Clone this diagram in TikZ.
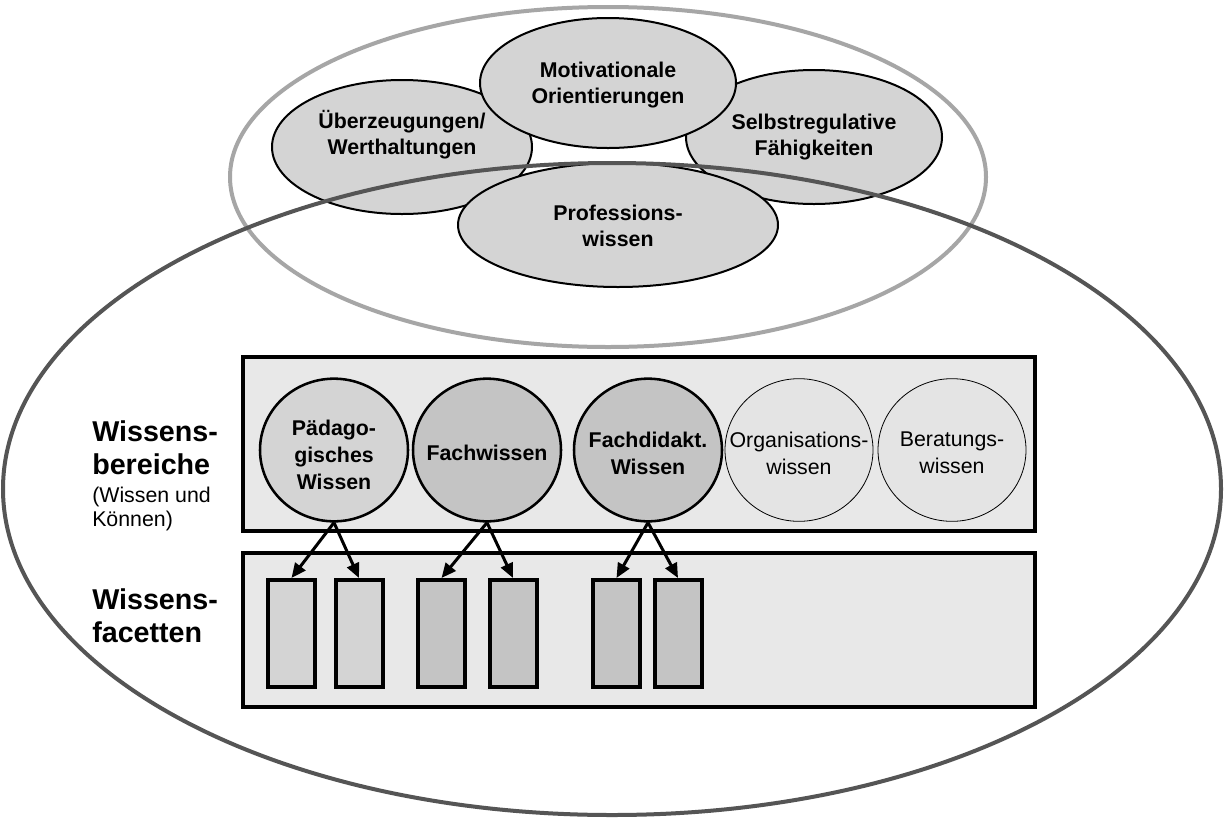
\documentclass[tikz,border=0pt]{standalone}
\usepackage{fontspec}
\setmainfont{Liberation Sans}
\usetikzlibrary{shapes.geometric,arrows.meta}
\definecolor{fillA}{HTML}{D4D4D4}
\definecolor{fillB}{HTML}{C4C4C4}
\definecolor{fillC}{HTML}{E4E4E4}
\definecolor{boxfill}{HTML}{E8E8E8}
\definecolor{darkring}{HTML}{555555}
\definecolor{lightring}{HTML}{A6A6A6}
\tikzset{
  topell/.style={ellipse, draw=black, line width=1.5pt, fill=fillA, inner sep=0pt},
  eltext/.style={font=\fontsize{16}{19.5}\selectfont\bfseries, align=center},
  bigcirc/.style={ellipse, draw=black, line width=1.9pt, inner sep=0pt,
    minimum width=111pt, minimum height=107pt},
  thincirc/.style={ellipse, draw=black, line width=0.6pt, fill=fillC, inner sep=0pt,
    minimum width=111pt, minimum height=107pt},
  boldtext/.style={font=\fontsize{16}{20.25}\selectfont\bfseries, align=center},
  normtext/.style={font=\fontsize{16}{20.25}\selectfont, align=center},
  area/.style={draw=black, line width=3pt, fill=boxfill},
  facet/.style={rectangle, draw=black, line width=3pt, inner sep=0pt,
    minimum width=35.25pt, minimum height=80.25pt},
  link/.style={line width=2.25pt, -{Triangle[length=11pt,width=9.5pt]}},
  biglabel/.style={font=\fontsize{21.5}{24.75}\selectfont\bfseries, align=left, anchor=west, inner sep=0pt},
  smalllabel/.style={font=\fontsize{16}{18}\selectfont, align=left, anchor=west, inner sep=0pt}
}
\begin{document}
\begin{tikzpicture}[x=0.75pt,y=-0.75pt]
\useasboundingbox[fill=white] (0,0) rectangle (1227,818);

% upper ellipses
\node[topell, minimum width=195pt, minimum height=100.5pt] (ueber) at (402,147) {};
\node[eltext] (uebertxt) at (402,135) {Überzeugungen/\\Werthaltungen};
\node[topell, minimum width=192pt, minimum height=100.5pt] (selbst) at (814,137) {};
\node[eltext] (selbsttxt) at (814,137) {Selbstregulative\\Fähigkeiten};
\node[topell, minimum width=192pt, minimum height=97.5pt] (motiv) at (608,83) {};
\node[eltext] (motivtxt) at (608,85) {Motivationale\\Orientierungen};
\node[topell, minimum width=240pt, minimum height=93pt] (prof) at (618,225) {};
\node[eltext] (proftxt) at (618,226) {Professions-\\wissen};

% rings
\node[ellipse, draw=lightring, line width=3pt, inner sep=0pt,
  minimum width=567pt, minimum height=255pt] (ringlight) at (608,177) {};
\node[ellipse, draw=darkring, line width=3pt, inner sep=0pt,
  minimum width=913.5pt, minimum height=489pt] (ringdark) at (612,489) {};

% boxes
\draw[area] (243,357) rectangle (1035,531);
\draw[area] (243,553) rectangle (1035,707);

% knowledge domains
\node[bigcirc, fill=fillA] (paed) at (334,450) {};
\node[bigcirc, fill=fillB] (fach) at (487,450) {};
\node[bigcirc, fill=fillB] (fdid) at (648,450) {};
\node[thincirc] (orga) at (799,450) {};
\node[thincirc] (berat) at (952,450) {};
\node[boldtext] (paedtxt) at (334,455) {Pädago-\\gisches\\Wissen};
\node[boldtext] (fachtxt) at (487,453) {Fachwissen};
\node[boldtext] (fdidtxt) at (648,453) {Fachdidakt.\\Wissen};
\node[normtext] (orgatxt) at (799,453) {Organisations-\\wissen};
\node[normtext] (berattxt) at (952,453) {Beratungs-\\wissen};

% facets
\node[facet, fill=fillA] (f1) at (291.5,633.5) {};
\node[facet, fill=fillA] (f2) at (359,633.5) {};
\node[facet, fill=fillB] (f3) at (441.5,633.5) {};
\node[facet, fill=fillB] (f4) at (513,633.5) {};
\node[facet, fill=fillB] (f5) at (616.5,633.5) {};
\node[facet, fill=fillB] (f6) at (678,633.5) {};

% arrows
\draw[link] (paed.south) -- (f1.north);
\draw[link] (paed.south) -- (f2.north);
\draw[link] (fach.south) -- (f3.north);
\draw[link] (fach.south) -- (f4.north);
\draw[link] (fdid.south) -- (f5.north);
\draw[link] (fdid.south) -- (f6.north);

% left labels
\node[biglabel] (wb) at (92,448) {Wissens-\\bereiche};
\node[smalllabel] (wk) at (92,509) {(Wissen und\\Können)};
\node[biglabel] (wf) at (92,616) {Wissens-\\facetten};
\end{tikzpicture}
\end{document}
